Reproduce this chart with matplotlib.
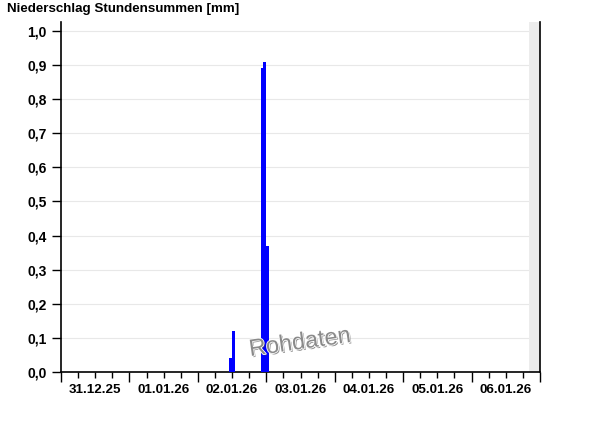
import matplotlib
matplotlib.use("Agg")
import matplotlib.pyplot as plt
import matplotlib.patheffects as pe
import numpy as np

plt.rcParams['font.family'] = ['Liberation Sans', 'DejaVu Sans']

# hours since 31.12.25 00:00
bar_hours = [59, 60, 70, 71, 72]
bar_values = [0.04, 0.12, 0.89, 0.91, 0.37]
day_labels = ['31.12.25', '01.01.26', '02.01.26', '03.01.26', '04.01.26', '05.01.26', '06.01.26']
y_ticks = [0.0, 0.1, 0.2, 0.3, 0.4, 0.5, 0.6, 0.7, 0.8, 0.9, 1.0]
future_start = 164

fig = plt.figure(figsize=(6, 4.26), dpi=100)
ax = fig.add_axes([61/600, 54/426, 479/600, 350/426])

ax.bar(bar_hours, bar_values, width=1.0, align='edge', color='#0000ff', zorder=3)
ax.axvspan(future_start, 168, color='#ececec', zorder=2, lw=0)

ax.set_xlim(0, 168)
ax.set_ylim(0, 1.026)
ax.set_yticks(y_ticks)
ax.set_yticklabels([('%.1f' % v).replace('.', ',') for v in y_ticks],
                   fontsize=10, fontweight='bold')
ax.yaxis.grid(True, color='#e8e8e8', lw=0.8, zorder=1)

ax.set_xticks(np.arange(0, 169, 24))
ax.set_xticklabels([])
ax.set_xticks(np.arange(0, 169, 6), minor=True)
for i, lab in enumerate(day_labels):
    ax.text(i * 24 + 12, -0.033, lab, ha='center', va='top', fontsize=9.6,
            fontweight='bold', transform=ax.get_xaxis_transform())

ax.tick_params(axis='x', which='major', length=7, width=1, color='black')
ax.tick_params(axis='x', which='minor', length=4, width=1, color='black')
ax.tick_params(axis='y', length=6.5, width=1, pad=4)

ax.spines['top'].set_visible(False)
for s in ['left', 'right', 'bottom']:
    ax.spines[s].set_linewidth(1.2)

fig.text(7/600, 1 - 9/426, 'Niederschlag Stundensummen [mm]', ha='left', va='center',
         fontsize=9.6, fontweight='bold')

ax.text(300/600, 1 - 343/426, 'Rohdaten', transform=fig.transFigure, ha='center',
        va='center', fontsize=17, color='#8a8a8a', rotation=8, zorder=5,
        path_effects=[pe.withSimplePatchShadow(offset=(1, -1), shadow_rgbFace='#444444', alpha=0.6),
                      pe.Stroke(linewidth=1.2, foreground='white'), pe.Normal()])

fig.savefig('out.png', dpi=100)
